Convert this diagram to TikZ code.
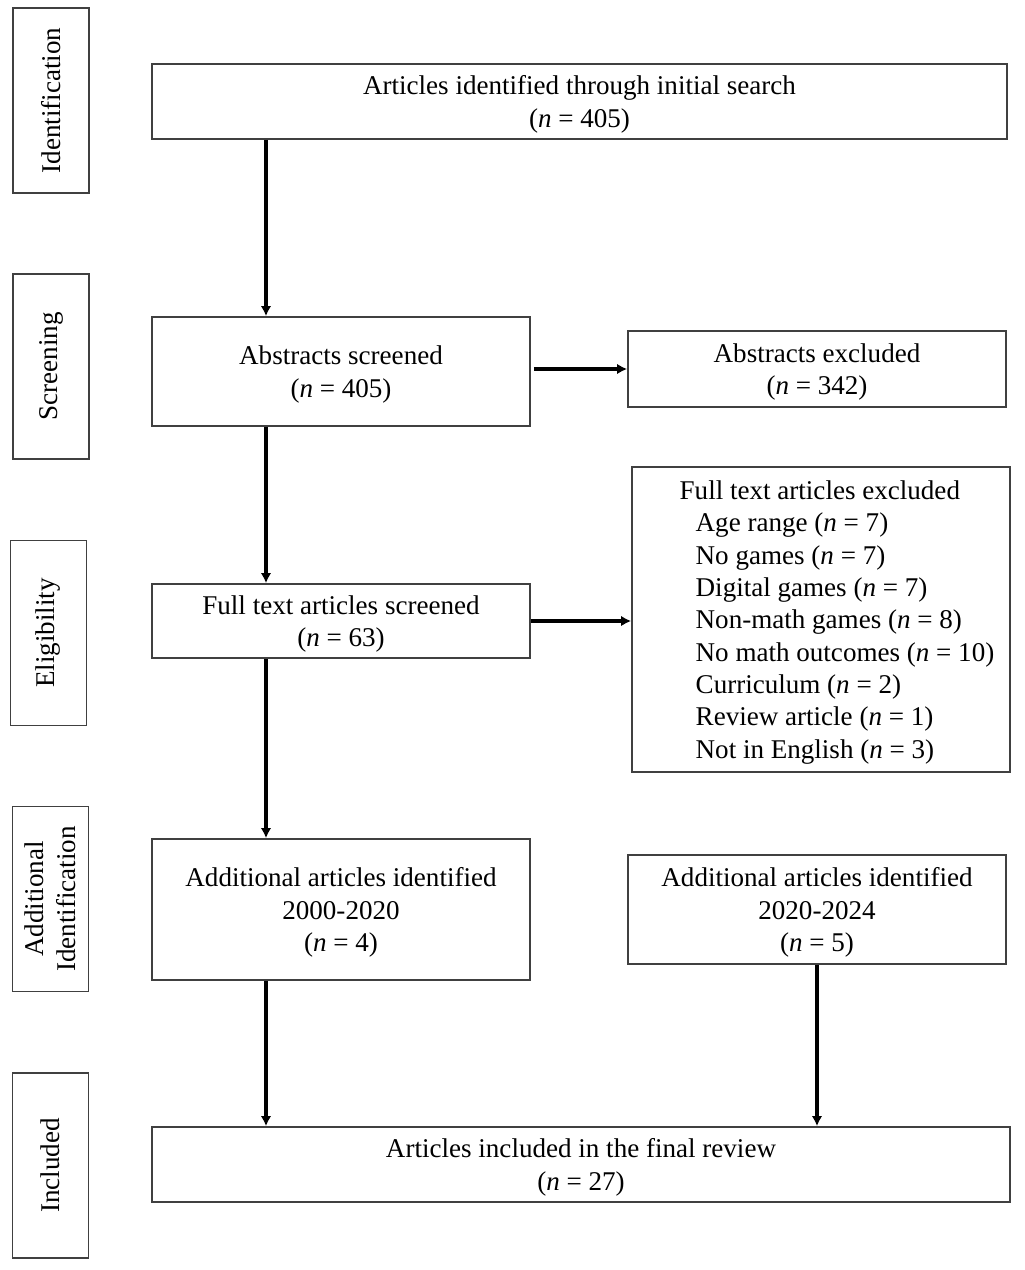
\documentclass[tikz,border=0pt]{standalone}
\usepackage{fontspec}
\setmainfont{Liberation Serif}
\usepackage{tikz}
\usetikzlibrary{arrows.meta}
\usetikzlibrary{positioning}
\tikzset{>=latex}
\tikzset{box/.style = {rectangle, draw=black!75, line width=1pt, align=center, inner sep=0pt, text depth=0pt}}
\tikzset{phase/.style = {rectangle, draw=black!75, line width=1pt, rotate=90, align=center, minimum width=3.7cm, minimum height=1.52cm, inner sep=0pt}}
\tikzstyle{flow} = [-{Latex[length=0.2cm, width=0.21cm]}, line width=1.9pt]
\newcommand{\nn}{\textit{n}}

\begin{document}
\begin{tikzpicture}[every node/.style={font=\fontsize{15.4pt}{18.4pt}\selectfont}]
\useasboundingbox (0,0) rectangle (20.5,-25.4);
% phases
\node [phase] (I) at (1.02,-2.01) {Identification};
\node [phase] (S) at (1.02,-7.33) {Screening};
\node [phase] (E) at (0.97,-12.66) {Eligibility};
\node [phase] (AI) at (1.01,-17.98) {Additional\\Identification};
\node [phase] (IN) at (1.01,-23.31) {Included};
% boxes
\node [box, minimum width=17.1cm, minimum height=1.5cm] (ID) at (11.59,-2.03) {Articles identified through initial search\\(\nn{} = 405)};
\node [box, minimum width=7.56cm, minimum height=2.18cm] (AS) at (6.82,-7.43) {Abstracts screened\\(\nn{} = 405)};
\node [box, minimum width=7.56cm, minimum height=1.52cm] (AX) at (16.34,-7.38) {Abstracts excluded\\(\nn{} = 342)};
\node [box, minimum width=7.56cm, minimum height=1.48cm] (FS) at (6.82,-12.42) {Full text articles screened\\(\nn{} = 63)};
\node [box, minimum width=7.56cm, minimum height=6.1cm, align=left] (FX) at (16.42,-12.39) {\hspace*{0.64cm}Full text articles excluded\\
\hspace*{0.96cm}Age range (\nn{} = 7)\\
\hspace*{0.96cm}No games (\nn{} = 7)\\
\hspace*{0.96cm}Digital games (\nn{} = 7)\\
\hspace*{0.96cm}Non-math games (\nn{} = 8)\\
\hspace*{0.96cm}No math outcomes (\nn{} = 10)\\
\hspace*{0.96cm}Curriculum (\nn{} = 2)\\
\hspace*{0.96cm}Review article (\nn{} = 1)\\
\hspace*{0.96cm}Not in English (\nn{} = 3)};
\node [box, minimum width=7.56cm, minimum height=2.82cm] (A1) at (6.82,-18.19) {Additional articles identified\\2000-2020\\(\nn{} = 4)};
\node [box, minimum width=7.56cm, minimum height=2.18cm] (A2) at (16.34,-18.19) {Additional articles identified\\2020-2024\\(\nn{} = 5)};
\node [box, minimum width=17.16cm, minimum height=1.5cm] (F) at (11.62,-23.29) {Articles included in the final review\\(\nn{} = 27)};
% arrows
\coordinate (P) at (5.32,0);
\draw [flow] (ID.south -| P) to (AS.north -| P);
\draw [flow] (AS.south -| P) to (FS.north -| P);
\draw [flow] (FS.south -| P) to (A1.north -| P);
\draw [flow] (A1.south -| P) to (F.north -| P);
\draw [flow] (A2.south) to (A2.south |- F.north);
\draw [flow] ([xshift=0.06cm]AS.east |- AX) to (AX.west);
\draw [flow] (FS.east) to (FS.east -| FX.west);
\end{tikzpicture}
\end{document}
